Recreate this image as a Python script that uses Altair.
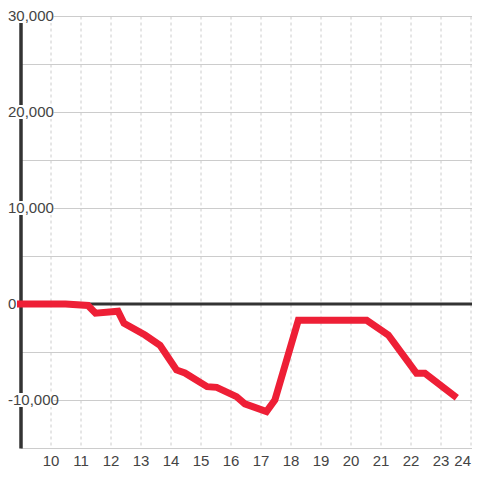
import altair as alt
import pandas as pd

# Series
hours = [9.0, 10.5, 11.25, 11.5, 12.25, 12.45, 13.15, 13.65, 14.2, 14.48, 15.22,
         15.54, 16.2, 16.48, 17.2, 17.48, 18.26, 20.54, 21.26, 22.2, 22.48, 23.45]
values = [0, 0, -150, -950, -750, -2000, -3230, -4300, -6870, -7190, -8610,
          -8680, -9650, -10400, -11200, -10000, -1700, -1700, -3230, -7220, -7220, -9550]

# Axis labels
y_label_values = [30000, 20000, 10000, 0, -10000]
y_label_texts = ["30,000", "20,000", "10,000", "0", "-10,000"]
y_grid_values = [30000, 25000, 20000, 15000, 10000, 5000, 0, -5000, -10000, -15000]
x_tick_values = [10, 11, 12, 13, 14, 15, 16, 17, 18, 19, 20, 21, 22, 23, 24]

FONT = "Liberation Sans"
RED = "#ee1f36"
DARK = "#333333"

df = pd.DataFrame({"x": hours, "y": values})
labels_df = pd.DataFrame({"y": y_label_values, "label": y_label_texts})
boxes_df = labels_df[labels_df["y"] != 0]
zero_df = pd.DataFrame({"y": [0]})

xscale = alt.Scale(domain=[9, 24.05], nice=False, zero=False)
yscale = alt.Scale(domain=[-15000, 30000], nice=False, zero=False)

xaxis = alt.Axis(values=x_tick_values, grid=True, gridColor="#cccccc", gridDash=[3, 3],
                 gridWidth=1, domain=False, ticks=False, labelFont=FONT, labelFontSize=15,
                 labelColor="#444444", labelPadding=5, labelFlush=5, title=None, format="d")
yaxis = alt.Axis(values=y_grid_values, grid=True, gridColor="#cccccc", gridWidth=1,
                 domain=True, domainColor=DARK, domainWidth=3.5, ticks=False,
                 labels=False, title=None)

line = alt.Chart(df).mark_line(color=RED, strokeWidth=7, strokeCap="square").encode(
    x=alt.X("x:Q", scale=xscale, axis=xaxis),
    y=alt.Y("y:Q", scale=yscale, axis=yaxis),
)

zero = alt.Chart(zero_df).mark_rule(color=DARK, strokeWidth=3).encode(
    y=alt.Y("y:Q", scale=yscale),
    x=alt.value(0),
    x2=alt.value(451.5),
)

boxes = alt.Chart(boxes_df).mark_rule(color="white", strokeWidth=14, strokeCap="butt").encode(
    y=alt.Y("y:Q", scale=yscale),
    x=alt.value(-12.5),
    x2=alt.value(33),
)

texts = alt.Chart(labels_df).mark_text(
    align="left", baseline="middle", font=FONT, fontSize=15, color="#444444"
).encode(
    y=alt.Y("y:Q", scale=yscale),
    x=alt.value(-12.5),
    text="label:N",
)

chart = alt.layer(zero, line, boxes, texts).properties(
    width=451.5,
    height=432,
    autosize=alt.AutoSizeParams(type="none"),
    padding={"left": 12.5, "right": 0, "top": 8, "bottom": 19},
).configure_view(stroke=None).configure(background="white")

chart.save("out.html", embed_options={"renderer": "svg", "actions": False})
